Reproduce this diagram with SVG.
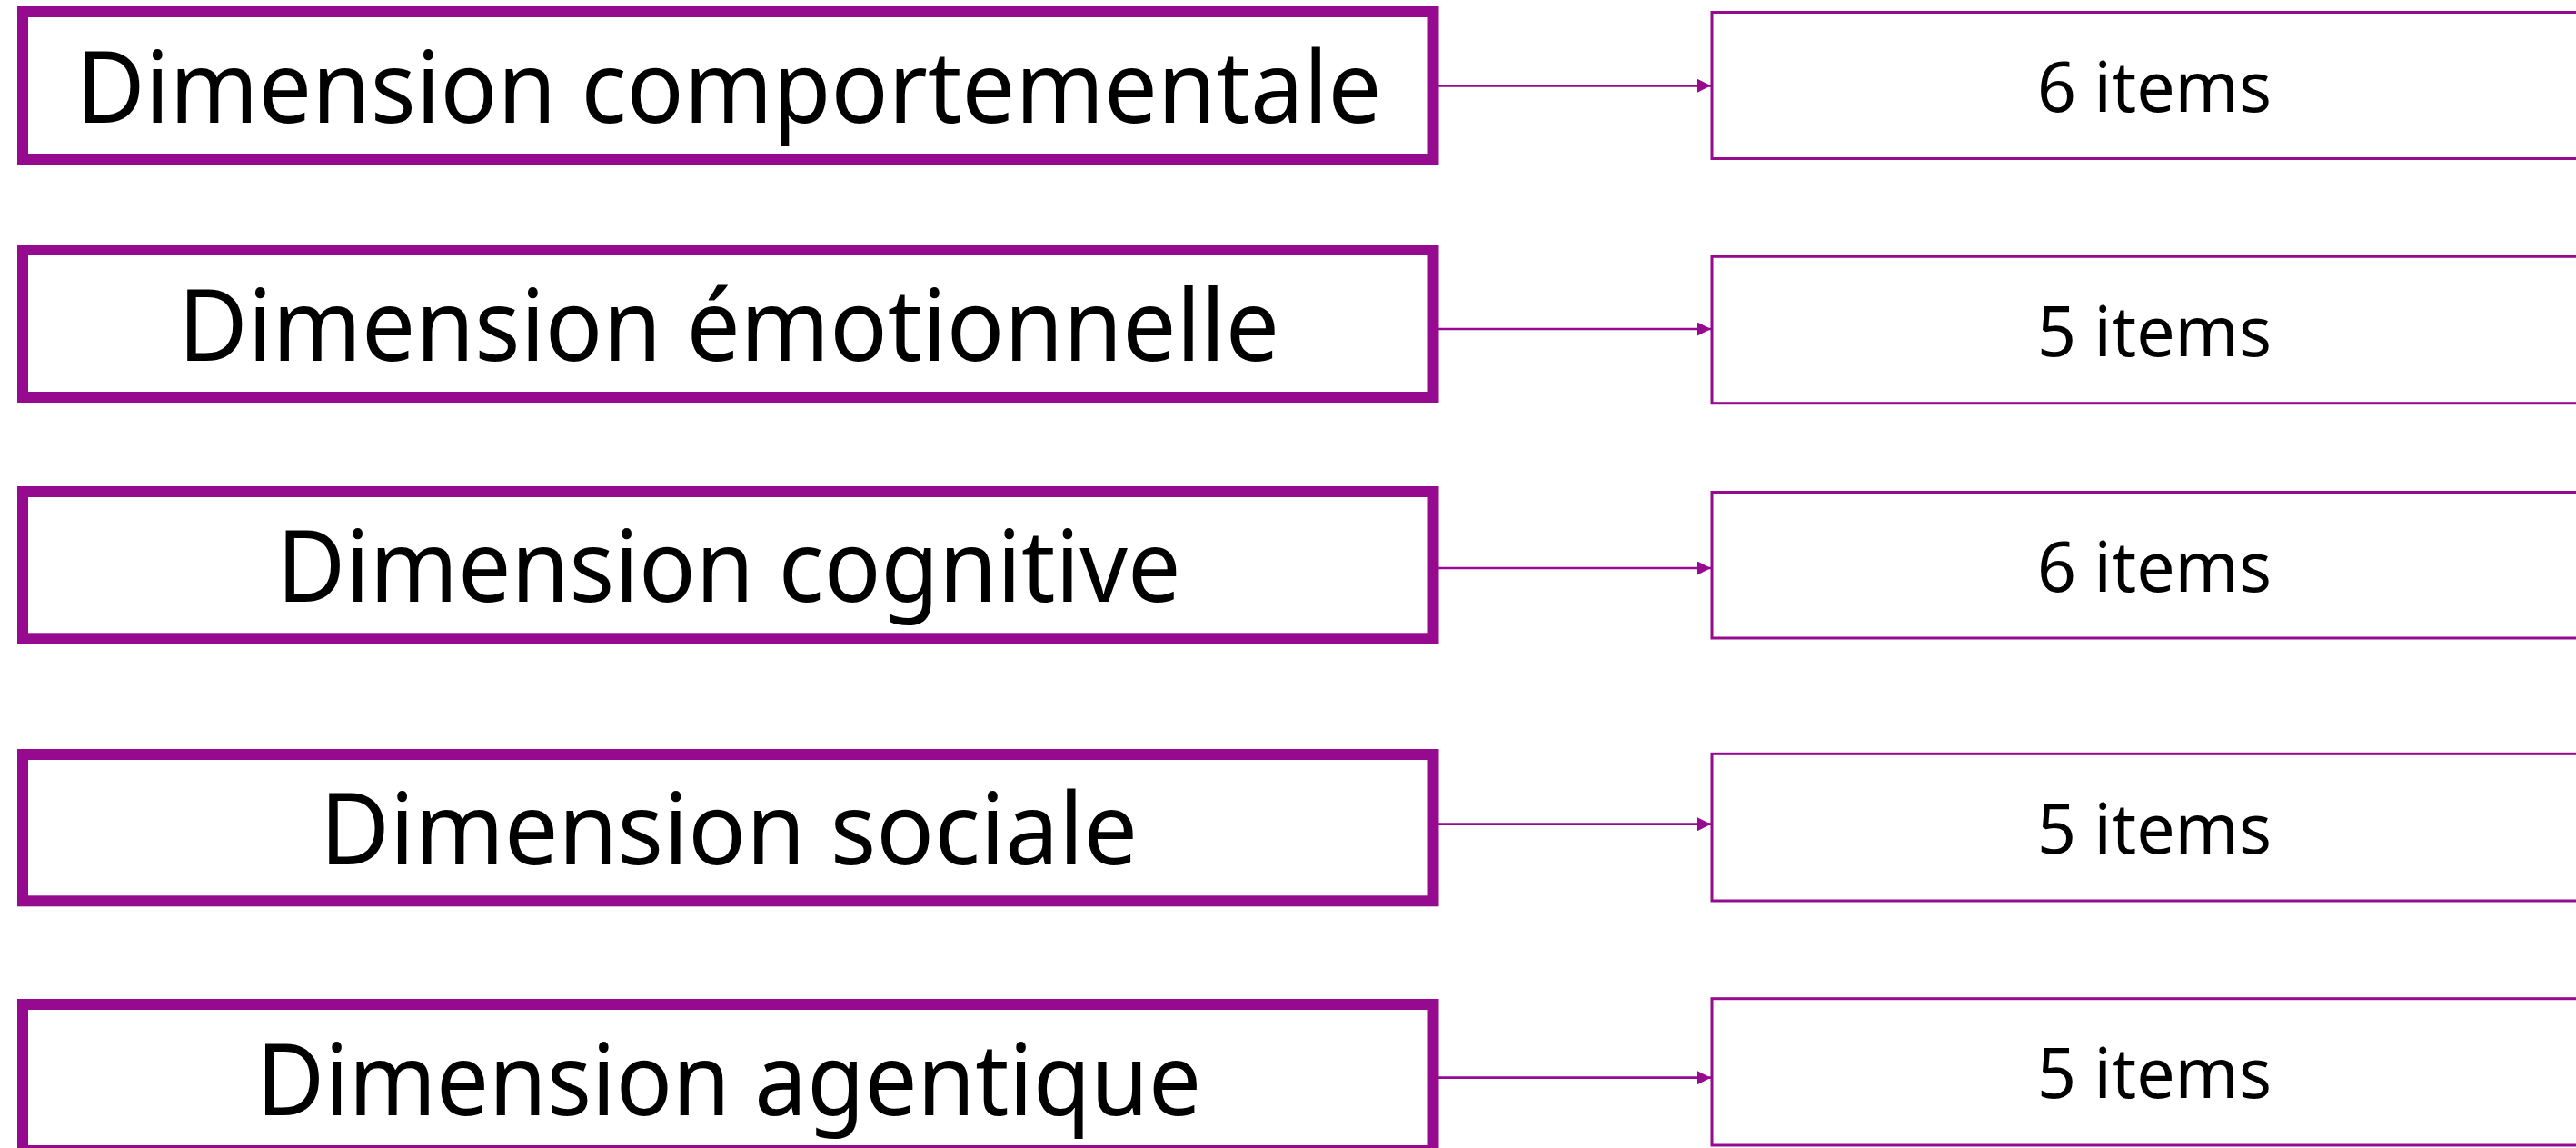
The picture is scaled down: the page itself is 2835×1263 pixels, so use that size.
<svg xmlns="http://www.w3.org/2000/svg" width="2835" height="1263" viewBox="0 0 2835 1263">
<style>
.dim{fill:#fff;stroke:#960A8F;stroke-width:12}
.itm{fill:#fff;stroke:#960A8F;stroke-width:3}
.conn{stroke:#960A8F;stroke-width:2.7;fill:none}
.lt{font-family:"Source Sans Pro","Noto Sans",sans-serif;font-size:110px;fill:#000;text-anchor:middle}
.rt{font-family:"Source Sans Pro","Noto Sans",sans-serif;font-size:77px;fill:#000;text-anchor:middle}
</style>
<defs>
<marker id="ah" markerUnits="userSpaceOnUse" markerWidth="15" markerHeight="15" refX="15" refY="7.5" orient="auto">
<path d="M0,0 L15,7.5 L0,15 z" fill="#960A8F"/>
</marker>
</defs>
<rect width="2835" height="1263" fill="#fff"/>
<g id="connectors">
<line class="conn" x1="1583" y1="94.3" x2="1883" y2="94.3" marker-end="url(#ah)"/>
<line class="conn" x1="1583" y1="362" x2="1883" y2="362" marker-end="url(#ah)"/>
<line class="conn" x1="1583" y1="625" x2="1883" y2="625" marker-end="url(#ah)"/>
<line class="conn" x1="1583" y1="906.7" x2="1883" y2="906.7" marker-end="url(#ah)"/>
<line class="conn" x1="1583" y1="1185.7" x2="1883" y2="1185.7" marker-end="url(#ah)"/>
</g>
<g id="dim1"><rect class="dim" x="25" y="13" width="1552.5" height="162"/><text class="lt" x="802" y="135" textLength="1437" lengthAdjust="spacingAndGlyphs">Dimension comportementale</text></g>
<g id="dim2"><rect class="dim" x="25" y="275" width="1552.5" height="162"/><text class="lt" x="802" y="397" textLength="1212" lengthAdjust="spacingAndGlyphs">Dimension émotionnelle</text></g>
<g id="dim3"><rect class="dim" x="25" y="541" width="1552.5" height="161.3"/><text class="lt" x="802" y="662" textLength="995" lengthAdjust="spacingAndGlyphs">Dimension cognitive</text></g>
<g id="dim4"><rect class="dim" x="25" y="830" width="1552.5" height="161.3"/><text class="lt" x="802" y="951" textLength="900" lengthAdjust="spacingAndGlyphs">Dimension sociale</text></g>
<g id="dim5"><rect class="dim" x="25" y="1105" width="1552.5" height="161"/><text class="lt" x="802" y="1226.7" textLength="1040" lengthAdjust="spacingAndGlyphs">Dimension agentique</text></g>
<g id="items1"><rect class="itm" x="1884" y="13.5" width="1000" height="161"/><text class="rt" x="2371" y="123" textLength="258" lengthAdjust="spacingAndGlyphs">6 items</text></g>
<g id="items2"><rect class="itm" x="1884" y="282.3" width="1000" height="161.4"/><text class="rt" x="2371" y="392" textLength="258" lengthAdjust="spacingAndGlyphs">5 items</text></g>
<g id="items3"><rect class="itm" x="1884" y="541.5" width="1000" height="160.5"/><text class="rt" x="2371" y="650.5" textLength="258" lengthAdjust="spacingAndGlyphs">6 items</text></g>
<g id="items4"><rect class="itm" x="1884" y="829.3" width="1000" height="161.7"/><text class="rt" x="2371" y="939" textLength="258" lengthAdjust="spacingAndGlyphs">5 items</text></g>
<g id="items5"><rect class="itm" x="1884" y="1098.7" width="1000" height="161.3"/><text class="rt" x="2371" y="1208" textLength="258" lengthAdjust="spacingAndGlyphs">5 items</text></g>
</svg>
